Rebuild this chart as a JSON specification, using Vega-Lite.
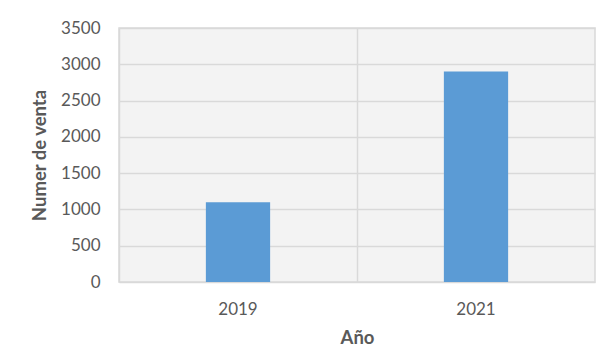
{
  "$schema": "https://vega.github.io/schema/vega-lite/v6.json",
  "width": 476,
  "height": 254,
  "autosize": {"type": "none"},
  "padding": {"left": 119, "top": 28, "right": 11, "bottom": 81},
  "background": "white",
  "data": {"values": [
    {"year": "2019", "ventas": 1100},
    {"year": "2021", "ventas": 2900}
  ]},
  "mark": {"type": "bar", "color": "#5B9BD5", "width": {"band": 0.27}},
  "encoding": {
    "x": {
      "field": "year",
      "type": "ordinal",
      "scale": {"paddingInner": 0, "paddingOuter": 0},
      "axis": {
        "title": "Año",
        "labelAngle": 0,
        "labelPadding": 19,
        "titlePadding": 11,
        "grid": true,
        "bandPosition": 0
      }
    },
    "y": {
      "field": "ventas",
      "type": "quantitative",
      "scale": {"domain": [0, 3500], "nice": false},
      "axis": {
        "title": "Numer de venta",
        "format": "d",
        "values": [0, 500, 1000, 1500, 2000, 2500, 3000, 3500],
        "labelPadding": 19,
        "titlePadding": 11
      }
    }
  },
  "config": {
    "font": "Lato",
    "view": {"fill": "#f3f3f3", "stroke": "#d9d9d9", "strokeWidth": 1.5},
    "axis": {
      "domain": false,
      "ticks": false,
      "tickSize": 0,
      "grid": true,
      "gridColor": "#d9d9d9",
      "gridWidth": 1.5,
      "labelFont": "Lato",
      "labelFontSize": 17,
      "labelColor": "#595959",
      "titleFont": "Lato",
      "titleFontSize": 18.5,
      "titleFontWeight": "bold",
      "titleColor": "#595959"
    }
  }
}
